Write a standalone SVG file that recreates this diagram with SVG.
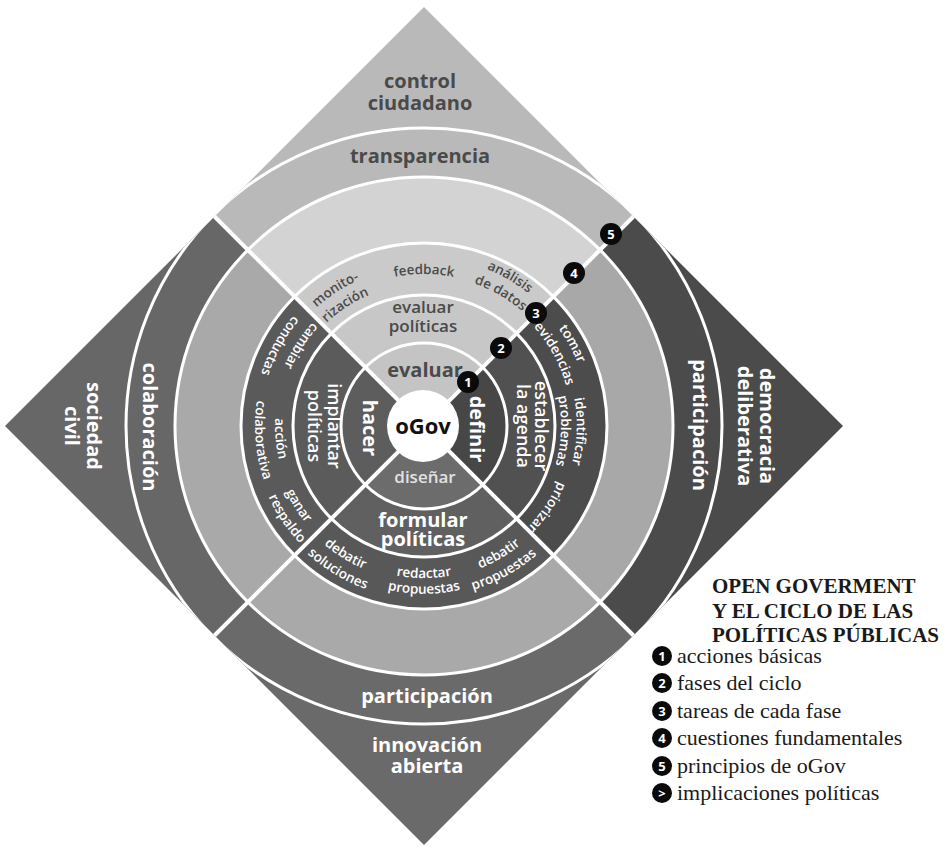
<svg xmlns="http://www.w3.org/2000/svg" width="949" height="846" viewBox="0 0 949 846">
<style>
.lbl{font-family:"Open Sans","Noto Sans","DejaVu Sans",sans-serif;font-weight:600}
.bo{font-weight:700}
.w{fill:#ffffff}
.dk{fill:#4a4a4a}
.s14{font-size:13.5px}
.s17{font-size:17px}
.s18{font-size:18px}
.s20{font-size:20px}
.wl{fill:none;stroke:#ffffff;stroke-width:3}
.diag{stroke:#ffffff;stroke-width:4}
.badge{fill:#0a0a0a}
.bn{font-family:"Open Sans","DejaVu Sans",sans-serif;font-weight:700;font-size:13px;fill:#ffffff;text-anchor:middle}
.leg{font-family:"Liberation Serif","Times New Roman",serif;fill:#1a1a1a}
</style>
<defs>
<clipPath id="qT"><polygon points="424,426 -176,-174 1024,-174"/></clipPath>
<clipPath id="qR"><polygon points="424,426 1024,-174 1024,1026"/></clipPath>
<clipPath id="qB"><polygon points="424,426 1024,1026 -176,1026"/></clipPath>
<clipPath id="qL"><polygon points="424,426 -176,1026 -176,-174"/></clipPath>
<clipPath id="dia"><polygon points="424,7 843,426 424,845 5,426"/></clipPath>
<polygon id="diamond" points="424,7 843,426 424,845 5,426"/>
<path id="a-feedback" d="M274.3,399.6 A152,152 0 0 1 573.7,399.6"/>
<path id="a-monito" d="M276.7,488.5 A160,160 0 0 1 541.0,316.9"/>
<path id="a-rizacion" d="M293.3,481.5 A142,142 0 0 1 527.9,329.2"/>
<path id="a-analisis" d="M294.5,317.4 A169,169 0 0 1 582.8,483.8"/>
<path id="a-dedatos" d="M308.3,328.9 A151,151 0 0 1 565.9,477.6"/>
<path id="a-tomar" d="M370.0,269.0 A166,166 0 0 1 528.5,555.0"/>
<path id="a-evidencias" d="M375.8,286.1 A148,148 0 0 1 517.1,541.0"/>
<path id="a-identificar" d="M455.8,276.4 A153,153 0 0 1 445.3,577.5"/>
<path id="a-problemas" d="M452.5,292.0 A137,137 0 0 1 443.1,561.7"/>
<path id="a-priorizar" d="M523.8,320.8 A145,145 0 0 1 366.2,559.0"/>
<path id="a-debatirR" d="M307.3,525.0 A153,153 0 0 0 567.5,372.9"/>
<path id="a-propuestasR" d="M291.1,533.6 A171,171 0 0 0 585.7,370.3"/>
<path id="a-redactar" d="M274.3,452.4 A152,152 0 0 0 573.7,452.4"/>
<path id="a-propuestasM" d="M258.6,455.2 A168,168 0 0 0 589.4,455.2"/>
<path id="a-debatirL" d="M279.7,369.4 A155,155 0 0 0 540.3,528.5"/>
<path id="a-soluciones" d="M262.5,364.0 A173,173 0 0 0 554.6,539.5"/>
<path id="a-cambiar" d="M483.4,286.1 A152,152 0 0 0 320.3,537.2"/>
<path id="a-conductas" d="M479.7,264.3 A171,171 0 0 0 316.4,558.9"/>
<path id="a-accion" d="M385.4,282.1 A149,149 0 0 0 411.0,574.4"/>
<path id="a-colaborativa" d="M380.3,262.8 A169,169 0 0 0 409.3,594.4"/>
<path id="a-ganar" d="M320.8,313.0 A153,153 0 0 0 482.3,567.4"/>
<path id="a-respaldo" d="M305.2,303.0 A171,171 0 0 0 493.5,582.2"/>
</defs>

<rect x="0" y="0" width="949" height="846" fill="#ffffff"/>

<!-- TOP quadrant: evaluar -->
<g id="quad-top">
<g clip-path="url(#qT)">
<use href="#diamond" fill="#b9b9b9"/>
<circle cx="424" cy="426" r="249" fill="#d3d3d3"/>
<circle cx="424" cy="426" r="183" fill="#cacaca"/>
<circle cx="424" cy="426" r="131" fill="#c7c7c7"/>
<circle cx="424" cy="426" r="83" fill="#c4c4c4"/>
</g>
</g>

<!-- RIGHT quadrant: definir -->
<g id="quad-right">
<g clip-path="url(#qR)">
<use href="#diamond" fill="#4b4b4b"/>
<circle cx="424" cy="426" r="249" fill="#a8a8a8"/>
<circle cx="424" cy="426" r="183" fill="#4c4c4c"/>
<circle cx="424" cy="426" r="131" fill="#515151"/>
<circle cx="424" cy="426" r="83" fill="#474747"/>
</g>
</g>

<!-- BOTTOM quadrant: diseñar -->
<g id="quad-bottom">
<g clip-path="url(#qB)">
<use href="#diamond" fill="#6a6a6a"/>
<circle cx="424" cy="426" r="249" fill="#a9a9a9"/>
<circle cx="424" cy="426" r="183" fill="#585858"/>
<circle cx="424" cy="426" r="131" fill="#606060"/>
<circle cx="424" cy="426" r="83" fill="#6c6c6c"/>
</g>
</g>

<!-- LEFT quadrant: hacer -->
<g id="quad-left">
<g clip-path="url(#qL)">
<use href="#diamond" fill="#676767"/>
<circle cx="424" cy="426" r="249" fill="#a9a9a9"/>
<circle cx="424" cy="426" r="183" fill="#5a5a5a"/>
<circle cx="424" cy="426" r="131" fill="#5b5b5b"/>
<circle cx="424" cy="426" r="83" fill="#5d5d5d"/>
</g>
</g>

<!-- connectors: white separators -->
<g id="connectors">
<circle class="wl" cx="424" cy="426" r="298" clip-path="url(#dia)"/>
<circle class="wl" cx="424" cy="426" r="249"/>
<circle class="wl" cx="424" cy="426" r="183"/>
<circle class="wl" cx="424" cy="426" r="131"/>
<circle class="wl" cx="424" cy="426" r="83"/>
<line class="diag" x1="214.5" y1="216.5" x2="633.5" y2="635.5"/>
<line class="diag" x1="633.5" y1="216.5" x2="214.5" y2="635.5"/>
</g>

<g id="center-ogov">
<circle cx="423" cy="426" r="36" fill="#ffffff"/>
<text class="lbl bo" x="423" y="434" font-size="22" text-anchor="middle" fill="#111111">oGov</text>
</g>

<!-- TOP labels -->
<g id="labels-top" class="lbl dk" text-anchor="middle">
<text class="bo s20" x="420" y="88">control</text>
<text class="bo s20" x="420" y="110">ciudadano</text>
<text class="bo s20" x="420" y="163">transparencia</text>
<text class="s14"><textPath href="#a-feedback" startOffset="50%">feedback</textPath></text>
<text class="s14"><textPath href="#a-monito" startOffset="50%">monito-</textPath></text>
<text class="s14"><textPath href="#a-rizacion" startOffset="50%">rización</textPath></text>
<text class="s14"><textPath href="#a-analisis" startOffset="50%">análisis</textPath></text>
<text class="s14"><textPath href="#a-dedatos" startOffset="50%">de datos</textPath></text>
<text class="s17" x="423" y="313">evaluar</text>
<text class="s17" x="423" y="332">políticas</text>
<text class="bo s20" x="425" y="377">evaluar</text>
</g>

<!-- RIGHT labels -->
<g id="labels-right" class="lbl w" text-anchor="middle">
<text class="bo s20" x="760" y="426" transform="rotate(90 760 426)">democracia</text>
<text class="bo s20" x="738" y="426" transform="rotate(90 738 426)">deliberativa</text>
<text class="bo s20" x="693" y="425" transform="rotate(90 693 425)">participación</text>
<text class="s14"><textPath href="#a-tomar" startOffset="50%">tomar</textPath></text>
<text class="s14"><textPath href="#a-evidencias" startOffset="50%">evidencias</textPath></text>
<text class="s14"><textPath href="#a-identificar" startOffset="50%">identificar</textPath></text>
<text class="s14"><textPath href="#a-problemas" startOffset="50%">problemas</textPath></text>
<text class="s14"><textPath href="#a-priorizar" startOffset="50%">priorizar</textPath></text>
<text class="s18" x="535" y="426" transform="rotate(90 535 426)">establecer</text>
<text class="s18" x="517" y="426" transform="rotate(90 517 426)">la agenda</text>
<text class="bo s20" x="470" y="429" transform="rotate(90 470 429)">definir</text>
</g>

<!-- BOTTOM labels -->
<g id="labels-bottom" class="lbl w" text-anchor="middle">
<text class="bo s20" x="427" y="703">participación</text>
<text class="bo s20" x="427" y="752">innovación</text>
<text class="bo s20" x="427" y="773">abierta</text>
<text class="s14"><textPath href="#a-debatirR" startOffset="50%">debatir</textPath></text>
<text class="s14"><textPath href="#a-propuestasR" startOffset="50%">propuestas</textPath></text>
<text class="s14"><textPath href="#a-redactar" startOffset="50%">redactar</textPath></text>
<text class="s14"><textPath href="#a-propuestasM" startOffset="50%">propuestas</textPath></text>
<text class="s14"><textPath href="#a-debatirL" startOffset="50%">debatir</textPath></text>
<text class="s14"><textPath href="#a-soluciones" startOffset="50%">soluciones</textPath></text>
<text class="bo s20" x="423" y="527">formular</text>
<text class="bo s20" x="423" y="546">políticas</text>
<text class="s17" x="425" y="483" style="fill:#e2e2e2">diseñar</text>
</g>

<!-- LEFT labels -->
<g id="labels-left" class="lbl w" text-anchor="middle">
<text class="bo s20" x="143" y="427" transform="rotate(90 143 427)">colaboración</text>
<text class="bo s20" x="87" y="426" transform="rotate(90 87 426)">sociedad</text>
<text class="bo s20" x="65" y="426" transform="rotate(90 65 426)">civil</text>
<text class="s14"><textPath href="#a-cambiar" startOffset="50%">cambiar</textPath></text>
<text class="s14"><textPath href="#a-conductas" startOffset="50%">conductas</textPath></text>
<text class="s14"><textPath href="#a-accion" startOffset="50%">acción</textPath></text>
<text class="s14"><textPath href="#a-colaborativa" startOffset="50%">colaborativa</textPath></text>
<text class="s14"><textPath href="#a-ganar" startOffset="50%">ganar</textPath></text>
<text class="s14"><textPath href="#a-respaldo" startOffset="50%">respaldo</textPath></text>
<text class="s18" x="328" y="426" transform="rotate(90 328 426)">implantar</text>
<text class="s18" x="308" y="426" transform="rotate(90 308 426)">políticas</text>
<text class="bo s20" x="363" y="428" transform="rotate(90 363 428)">hacer</text>
</g>

<!-- numbered badges -->
<g id="badges">
<circle class="badge" cx="468" cy="382" r="11"/><text class="bn" x="468" y="386.5">1</text>
<circle class="badge" cx="501" cy="348" r="11"/><text class="bn" x="501" y="352.5">2</text>
<circle class="badge" cx="536" cy="313" r="11"/><text class="bn" x="536" y="317.5">3</text>
<circle class="badge" cx="574" cy="273" r="11"/><text class="bn" x="574" y="277.5">4</text>
<circle class="badge" cx="611" cy="234" r="11"/><text class="bn" x="611" y="238.5">5</text>
</g>

<!-- legend -->
<g id="legend">
<text class="leg" x="712" y="593" font-size="21" font-weight="700">OPEN GOVERMENT</text>
<text class="leg" x="712" y="618" font-size="21" font-weight="700">Y EL CICLO DE LAS</text>
<text class="leg" x="712" y="642" font-size="21" font-weight="700">POLÍTICAS PÚBLICAS</text>
<circle class="badge" cx="662" cy="656" r="10"/><text class="bn" x="662" y="660.5">1</text>
<text class="leg" x="677" y="663" font-size="22">acciones básicas</text>
<circle class="badge" cx="662" cy="683" r="10"/><text class="bn" x="662" y="687.5">2</text>
<text class="leg" x="677" y="690" font-size="22">fases del ciclo</text>
<circle class="badge" cx="662" cy="711" r="10"/><text class="bn" x="662" y="715.5">3</text>
<text class="leg" x="677" y="718" font-size="22">tareas de cada fase</text>
<circle class="badge" cx="662" cy="738" r="10"/><text class="bn" x="662" y="742.5">4</text>
<text class="leg" x="677" y="745" font-size="22">cuestiones fundamentales</text>
<circle class="badge" cx="662" cy="766" r="10"/><text class="bn" x="662" y="770.5">5</text>
<text class="leg" x="677" y="773" font-size="22">principios de oGov</text>
<circle class="badge" cx="662" cy="793" r="10"/><text class="bn" x="662" y="797.5">&gt;</text>
<text class="leg" x="677" y="800" font-size="22">implicaciones políticas</text>
</g>
</svg>
